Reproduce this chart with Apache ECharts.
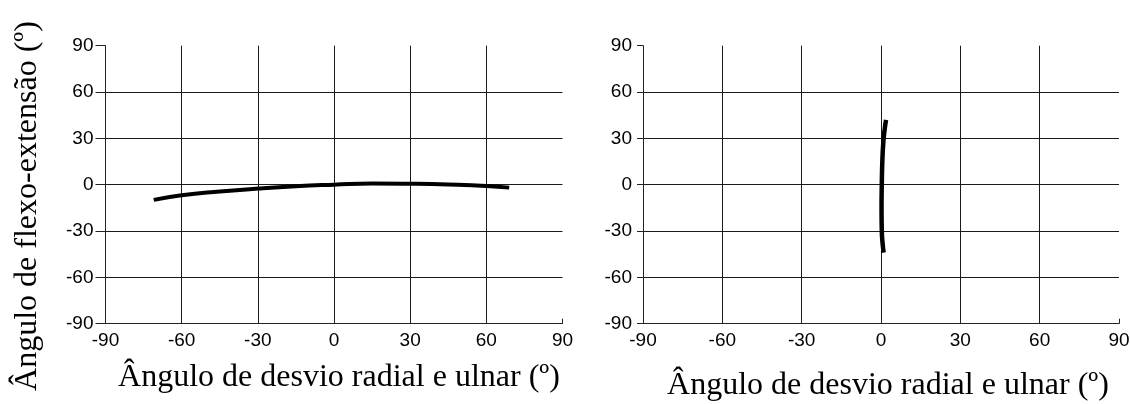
<!DOCTYPE html>
<html>
<head>
<meta charset="utf-8">
<title>Ângulo de flexo-extensão</title>
<script src="https://cdn.jsdelivr.net/npm/echarts@6/dist/echarts.min.js"></script>
<style>
    html, body { margin: 0; padding: 0; background: #fff; }
    #chart { width: 1130px; height: 404px; }
</style>
</head>
<body>
<div id="chart"></div>
<script>

// tick values shared by both plots
var axis_ticks = [-90, -60, -30, 0, 30, 60, 90];

// left plot: radial/ulnar deviation movement
var left_x = [-71, -60, -45, -30, -15, 0, 15, 30, 45, 60, 69];
var left_y = [-9.8, -6.8, -4.4, -2.5, -1.0, 0, 0.8, 0.6, 0.1, -0.8, -1.9];

// right plot: flexion/extension movement
var right_x = [1.0, 0.6, 0.3, 0.2, 0.3, 0.5, 0.9, 1.4, 1.9];
var right_y = [-44, -38, -30, -15, 0, 15, 28, 36, 42];

var x_title = 'Ângulo de desvio radial e ulnar (º)';
var y_title = 'Ângulo de flexo-extensão (º)';


function pairs(xs, ys) {
    var out = [];
    for (var i = 0; i < xs.length; i++) {
        out.push([xs[i], ys[i]]);
    }
    return out;
}

function make_x_axis(grid_index, name_gap, name_pad) {
    return {
        type: 'value',
        gridIndex: grid_index,
        min: axis_ticks[0],
        max: axis_ticks[axis_ticks.length - 1],
        interval: 30,
        name: x_title,
        nameLocation: 'middle',
        nameGap: name_gap,
        nameTextStyle: {
            fontFamily: 'Liberation Serif',
            fontSize: 32,
            color: '#000',
            padding: name_pad
        },
        axisLine: { show: true, onZero: false, lineStyle: { color: '#222', width: 1 } },
        axisTick: { show: true, inside: true, length: 5, lineStyle: { color: '#222' } },
        axisLabel: {
            margin: 8,
            fontFamily: 'Liberation Sans',
            fontSize: 19,
            color: '#000'
        },
        splitLine: {
            show: true,
            showMinLine: false,
            showMaxLine: false,
            lineStyle: { color: '#1a1a1a', width: 1 }
        }
    };
}

function make_y_axis(grid_index, tick_len, margin) {
    return {
        type: 'value',
        gridIndex: grid_index,
        min: axis_ticks[0],
        max: axis_ticks[axis_ticks.length - 1],
        interval: 30,
        axisLine: { show: true, onZero: false, lineStyle: { color: '#222', width: 1 } },
        axisTick: { show: true, inside: false, length: tick_len, lineStyle: { color: '#222' } },
        axisLabel: {
            margin: margin,
            fontFamily: 'Liberation Sans',
            fontSize: 19,
            color: '#000'
        },
        splitLine: {
            show: true,
            showMinLine: false,
            showMaxLine: false,
            lineStyle: { color: '#1a1a1a', width: 1 }
        }
    };
}

var myChart = echarts.init(document.getElementById('chart'), null, { renderer: 'canvas' });

var option = {
    animation: false,
    backgroundColor: '#fff',
    grid: [
        { left: 105.5, top: 45.7, width: 457, height: 278, outerBoundsMode: 'none' },
        { left: 643, top: 45.7, width: 476, height: 278, outerBoundsMode: 'none' }
    ],
    xAxis: [
        make_x_axis(0, 38, [0, 0, 0, 10]),
        make_x_axis(1, 46, [0, 0, 0, 14])
    ],
    yAxis: [
        make_y_axis(0, 10, 12),
        make_y_axis(1, 6, 11)
    ],
    graphic: [
        {
            type: 'text',
            x: 28,
            y: 206,
            rotation: Math.PI / 2,
            style: {
                text: y_title,
                font: '32px "Liberation Serif"',
                fill: '#000',
                textAlign: 'center',
                textVerticalAlign: 'middle'
            }
        }
    ],
    series: [
        {
            type: 'line',
            xAxisIndex: 0,
            yAxisIndex: 0,
            smooth: true,
            showSymbol: false,
            lineStyle: { color: '#000', width: 4 },
            data: pairs(left_x, left_y)
        },
        {
            type: 'line',
            xAxisIndex: 1,
            yAxisIndex: 1,
            smooth: true,
            showSymbol: false,
            lineStyle: { color: '#000', width: 4.5 },
            data: pairs(right_x, right_y)
        }
    ]
};

myChart.setOption(option);

</script>
</body>
</html>
